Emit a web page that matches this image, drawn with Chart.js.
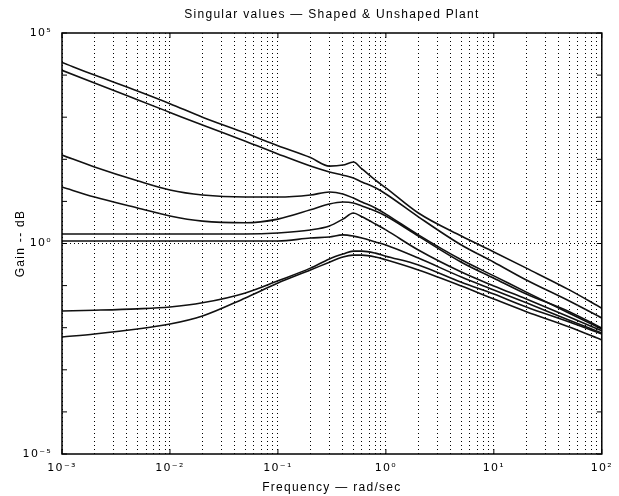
<!DOCTYPE html>
<html>
<head>
<meta charset="utf-8">
<title>Singular values</title>
<script src="https://cdn.jsdelivr.net/npm/chart.js@4.4.1/dist/chart.umd.min.js"></script>
<style>
  html, body { margin: 0; padding: 0; background: #fff; }
  #wrap { width: 619px; height: 496px; }
</style>
</head>
<body>
<div id="wrap"><canvas id="svChart" width="619" height="496"></canvas></div>
<script>
// frequency grid (rad/sec) shared by every singular value curve
const freq = [0.001, 0.002, 0.005, 0.01, 0.02, 0.05, 0.1, 0.2, 0.3, 0.4, 0.5, 0.6, 0.8, 1, 2, 5, 10, 20, 50, 100];

// singular values, shaped and unshaped plant
const sv1 = [2.0e4, 1.0e4, 4.2e3, 2.1e3, 1.0e3, 420, 210, 110, 69, 73, 86, 59, 32, 21, 5.3, 1.5, 0.63, 0.26, 0.079, 0.029];
const sv2 = [1.3e4, 6.5e3, 2.6e3, 1.3e3, 650, 270, 134, 69, 50, 42, 36, 29, 21, 15, 4.3, 0.92, 0.36, 0.136, 0.043, 0.017];
const sv3 = [126, 66, 31, 18.7, 14.2, 12.7, 12.7, 14.2, 16.7, 15, 12.0, 9.7, 7.0, 5.0, 1.6, 0.41, 0.17, 0.070, 0.022, 0.0093];
const sv4 = [22, 12.7, 7.0, 4.5, 3.4, 3.1, 3.8, 6.3, 8.7, 9.7, 9.2, 7.8, 5.9, 4.5, 1.5, 0.36, 0.15, 0.063, 0.024, 0.0098];
const sv5 = [1.68, 1.68, 1.68, 1.68, 1.68, 1.68, 1.78, 2.1, 2.6, 3.8, 5.3, 4.3, 2.9, 2.1, 0.70, 0.21, 0.098, 0.048, 0.018, 0.0084];
const sv6 = [1.15, 1.15, 1.15, 1.15, 1.15, 1.15, 1.15, 1.35, 1.43, 1.6, 1.5, 1.35, 1.09, 0.92, 0.45, 0.16, 0.079, 0.039, 0.015, 0.0075];
const sv7 = [0.025, 0.026, 0.028, 0.031, 0.039, 0.067, 0.13, 0.26, 0.43, 0.56, 0.66, 0.66, 0.59, 0.50, 0.31, 0.12, 0.063, 0.031, 0.0137, 0.0071];
const sv8 = [0.0060, 0.0071, 0.0093, 0.0122, 0.019, 0.051, 0.115, 0.235, 0.36, 0.48, 0.53, 0.53, 0.48, 0.41, 0.235, 0.098, 0.048, 0.024, 0.0104, 0.0051];

// decade tick labels
const xDecades = [-3, -2, -1, 0, 1, 2];
const xTickLabels = ['10⁻³', '10⁻²', '10⁻¹', '10⁰', '10¹', '10²'];
const yDecades = [-5, -4, -3, -2, -1, 0, 1, 2, 3, 4, 5];
const yLabelled = { '-5': '10⁻⁵', '0': '10⁰', '5': '10⁵' };

const allSv = [sv1, sv2, sv3, sv4, sv5, sv6, sv7, sv8];

const isDecade = v => Math.abs(Math.log10(v) - Math.round(Math.log10(v))) < 1e-9;

// x grid: 1..9 x 10^k, y grid: every decade
const xTickValues = [];
xDecades.forEach(e => {
    for (let m = 1; m <= 9; m++) {
        if (e === 2 && m > 1) break;
        xTickValues.push(m * Math.pow(10, e));
    }
});
const yTickValues = yDecades.map(e => Math.pow(10, e));

const gridColor = '#000';
const fontSpec = { family: '"Liberation Sans", Arial, Helvetica, sans-serif', size: 12 };
const tickFont = { family: '"DejaVu Sans", sans-serif', size: 11 };

// wide-set lettering like the old plot printout
const spacing = {
    id: 'spacing',
    beforeDraw(chart) { chart.ctx.letterSpacing = '1.3px'; }
};

// solid box round the axes plus short inward ticks on each decade
const frame = {
    id: 'frame',
    afterDatasetsDraw(chart) {
        const { ctx, chartArea: a, scales } = chart;
        ctx.save();
        ctx.strokeStyle = '#000';
        ctx.lineWidth = 1.5;
        ctx.strokeRect(a.left, a.top, a.right - a.left, a.bottom - a.top);
        ctx.lineWidth = 1;
        ctx.beginPath();
        xDecades.forEach(e => {
            const px = scales.x.getPixelForValue(Math.pow(10, e));
            ctx.moveTo(px, a.bottom); ctx.lineTo(px, a.bottom - 5);
            ctx.moveTo(px, a.top); ctx.lineTo(px, a.top + 5);
        });
        yDecades.forEach(e => {
            const py = scales.y.getPixelForValue(Math.pow(10, e));
            ctx.moveTo(a.left, py); ctx.lineTo(a.left + 5, py);
            ctx.moveTo(a.right, py); ctx.lineTo(a.right - 5, py);
        });
        ctx.stroke();
        ctx.restore();
    }
};

new Chart(document.getElementById('svChart').getContext('2d'), {
    type: 'line',
    data: {
        datasets: allSv.map((sv, i) => ({
            label: 'sv' + (i + 1),
            data: freq.map((f, j) => ({ x: f, y: sv[j] })),
            borderColor: '#111',
            borderWidth: 1.6,
            pointRadius: 0,
            fill: false,
            cubicInterpolationMode: 'monotone'
        }))
    },
    options: {
        responsive: false,
        animation: false,
        events: [],
        layout: { padding: { left: 0, right: 12, top: 0, bottom: 0 } },
        plugins: {
            legend: { display: false },
            tooltip: { enabled: false },
            title: {
                display: true,
                text: 'Singular values — Shaped & Unshaped Plant',
                fullSize: false,
                color: '#000',
                font: { ...fontSpec, weight: 'normal' },
                padding: { top: 7, bottom: 11.6 }
            }
        },
        scales: {
            x: {
                type: 'logarithmic',
                min: 0.001,
                max: 100,
                afterBuildTicks: scale => { scale.ticks = xTickValues.map(v => ({ value: v })); },
                afterFit: scale => { scale.height = 42; },
                ticks: {
                    autoSkip: false,
                    maxRotation: 0,
                    padding: 8,
                    color: '#000',
                    font: tickFont,
                    callback: v => isDecade(v) ? xTickLabels[Math.round(Math.log10(v)) + 3] : ''
                },
                grid: { color: gridColor, lineWidth: 1, drawTicks: false },
                border: { display: false, dash: [1, 3] },
                title: {
                    display: true,
                    text: 'Frequency — rad/sec',
                    color: '#000',
                    font: fontSpec,
                    padding: { top: 0, bottom: 1 }
                }
            },
            y: {
                type: 'logarithmic',
                min: 1e-5,
                max: 1e5,
                afterBuildTicks: scale => { scale.ticks = yTickValues.map(v => ({ value: v })); },
                afterFit: scale => { scale.width = 62; },
                ticks: {
                    autoSkip: false,
                    padding: 10,
                    color: '#000',
                    font: tickFont,
                    callback: v => yLabelled[String(Math.round(Math.log10(v)))] || ''
                },
                grid: {
                    color: ctx => (ctx.tick && Math.abs(Math.log10(ctx.tick.value)) < 1e-9) ? gridColor : 'transparent',
                    lineWidth: 1,
                    drawTicks: false
                },
                border: { display: false, dash: [1, 3] },
                title: {
                    display: true,
                    text: 'Gain -- dB',
                    color: '#000',
                    font: fontSpec,
                    padding: { top: 13, bottom: 0 }
                }
            }
        }
    },
    plugins: [spacing, frame]
});
</script>
</body>
</html>
